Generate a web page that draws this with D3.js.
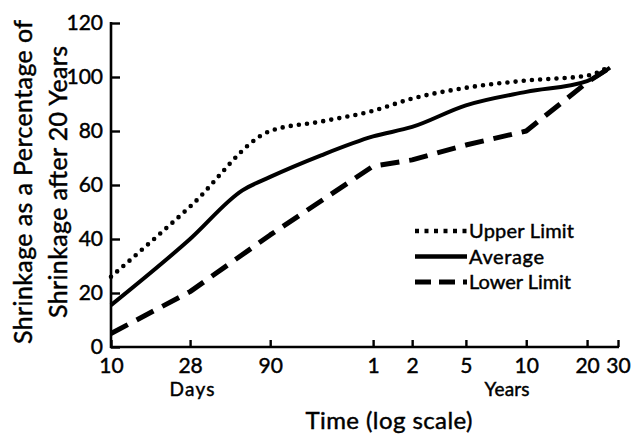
<!DOCTYPE html>
<html>
<head>
<meta charset="utf-8">
<script src="https://cdn.jsdelivr.net/npm/d3@7"></script>
<style>
  html, body { margin: 0; padding: 0; background: #fff; }
  svg { display: block; }
  text { font-family: Lato, "Open Sans", sans-serif; fill: #000; stroke: #000; stroke-width: 0.45px; }
</style>
</head>
<body>
<svg id="chart" width="631" height="435"></svg>
<script>
// Time axis: tick values in days with their printed labels
const tickDays = [10, 28, 90, 365, 730, 1825, 3650, 7300, 10950];
const tickLabels = ["10", "28", "90", "1", "2", "5", "10", "20", "30"];
const yTicks = [0, 20, 40, 60, 80, 100, 120];

const seriesNames = ["Upper Limit", "Average", "Lower Limit"];

// Shrinkage (% of 20-year shrinkage) against time in days
const upperDays = [10, 28, 90, 180, 365, 730, 1825, 3650, 7300, 9860];
const upperValues = [26, 52, 80, 83.5, 87.5, 92, 96, 98.7, 100.5, 104];

const averageDays = [10, 28, 60, 90, 180, 365, 730, 1825, 3650, 7300, 9860];
const averageValues = [15.5, 40, 58, 63, 71, 78, 81.5, 89.5, 94.5, 98.5, 103.5];

const lowerDays = [10, 28, 90, 365, 730, 1825, 3650, 7300, 9860];
const lowerValues = [5, 20.5, 41.5, 67, 69.3, 74.8, 80, 98, 103.5];

// ---- layout ----
const svg = d3.select("#chart");
const plotLeft = 111, plotRight = 618, plotTop = 23, plotBottom = 347;
// the printed time axis is not evenly logarithmic, so each labelled tick gets its own stop
const tickStops = [0, 0.156, 0.314, 0.517, 0.594, 0.700, 0.819, 0.939, 1];

const x = d3.scaleLog()
  .domain(tickDays)
  .range(tickStops.map(f => plotLeft + f * (plotRight - plotLeft)));
const y = d3.scaleLinear().domain([0, 120]).range([plotBottom, plotTop]);

// axes
const xAxis = d3.axisBottom(x)
  .tickValues(tickDays)
  .tickFormat((d, i) => tickLabels[i])
  .tickSize(-7)
  .tickSizeOuter(0)
  .tickPadding(10);
const gx = svg.append("g").attr("transform", `translate(0,${plotBottom})`).call(xAxis);
gx.select(".domain").attr("stroke-width", 2.6).attr("d", `M${plotLeft - 1},0H${plotRight + 1}`);
gx.selectAll(".tick line").attr("stroke-width", 2.4);
gx.selectAll(".tick text").attr("font-size", 21).attr("dy", "0.71em").attr("y", 11);

const yAxis = d3.axisLeft(y)
  .tickValues(yTicks)
  .tickSize(-9)
  .tickSizeOuter(0)
  .tickPadding(8);
const gy = svg.append("g").attr("transform", `translate(${plotLeft},0)`).call(yAxis);
gy.select(".domain").attr("stroke-width", 2.6).attr("d", `M0,${plotBottom + 1}V${plotTop - 1}`);
gy.selectAll(".tick line").attr("stroke-width", 2.4);
gy.selectAll(".tick text").attr("font-size", 21);

// axis titles
svg.append("text").attr("x", 192).attr("y", 396).attr("text-anchor", "middle")
  .attr("font-size", 19).attr("textLength", 45).text("Days");
svg.append("text").attr("x", 507).attr("y", 396).attr("text-anchor", "middle")
  .attr("font-size", 19).attr("textLength", 45).text("Years");
svg.append("text").attr("x", 389).attr("y", 429).attr("text-anchor", "middle")
  .attr("font-size", 24).attr("textLength", 167).text("Time (log scale)");

const yTitle = svg.append("text")
  .attr("transform", "translate(0,182) rotate(-90)")
  .attr("text-anchor", "middle")
  .attr("font-size", 25);
yTitle.append("tspan").attr("x", 0).attr("y", 32).attr("textLength", 324)
  .text("Shrinkage as a Percentage of");
yTitle.append("tspan").attr("x", 0).attr("y", 67).attr("textLength", 272)
  .text("Shrinkage after 20 Years");

// series
const styles = [
  { dash: "0 8.2", width: 4.6, cap: "round" },
  { dash: null, width: 4, cap: "butt" },
  { dash: "19 10", width: 5, cap: "butt" }
];
const series = [
  { name: seriesNames[0], days: upperDays, values: upperValues, curve: d3.curveMonotoneX },
  { name: seriesNames[1], days: averageDays, values: averageValues, curve: d3.curveMonotoneX },
  { name: seriesNames[2], days: lowerDays, values: lowerValues, curve: d3.curveLinear }
];

series.forEach((s, i) => {
  const pts = s.days.map((d, j) => [d, s.values[j]]);
  const line = d3.line().x(p => x(p[0])).y(p => y(p[1])).curve(s.curve);
  svg.append("path")
    .attr("d", line(pts))
    .attr("fill", "none")
    .attr("stroke", "#000")
    .attr("stroke-width", styles[i].width)
    .attr("stroke-linecap", styles[i].cap)
    .attr("stroke-linejoin", "round")
    .attr("stroke-dasharray", styles[i].dash);
});

// legend
const legend = svg.append("g").attr("transform", "translate(415,231)");
const legendStyles = [
  { dash: "4 5.5", width: 4.5 },
  { dash: null, width: 4.5 },
  { dash: "16 8", width: 5 }
];
const legendWidths = [105, 75, 102];
seriesNames.forEach((name, i) => {
  const row = legend.append("g").attr("transform", `translate(0,${i * 25.5})`);
  row.append("line")
    .attr("x1", 0).attr("x2", 52).attr("y1", 0).attr("y2", 0)
    .attr("stroke", "#000")
    .attr("stroke-width", legendStyles[i].width)
    .attr("stroke-dasharray", legendStyles[i].dash);
  row.append("text").attr("x", 54).attr("y", 0).attr("dy", "0.35em")
    .attr("font-size", 20).attr("textLength", legendWidths[i]).text(name);
});
</script>
</body>
</html>
